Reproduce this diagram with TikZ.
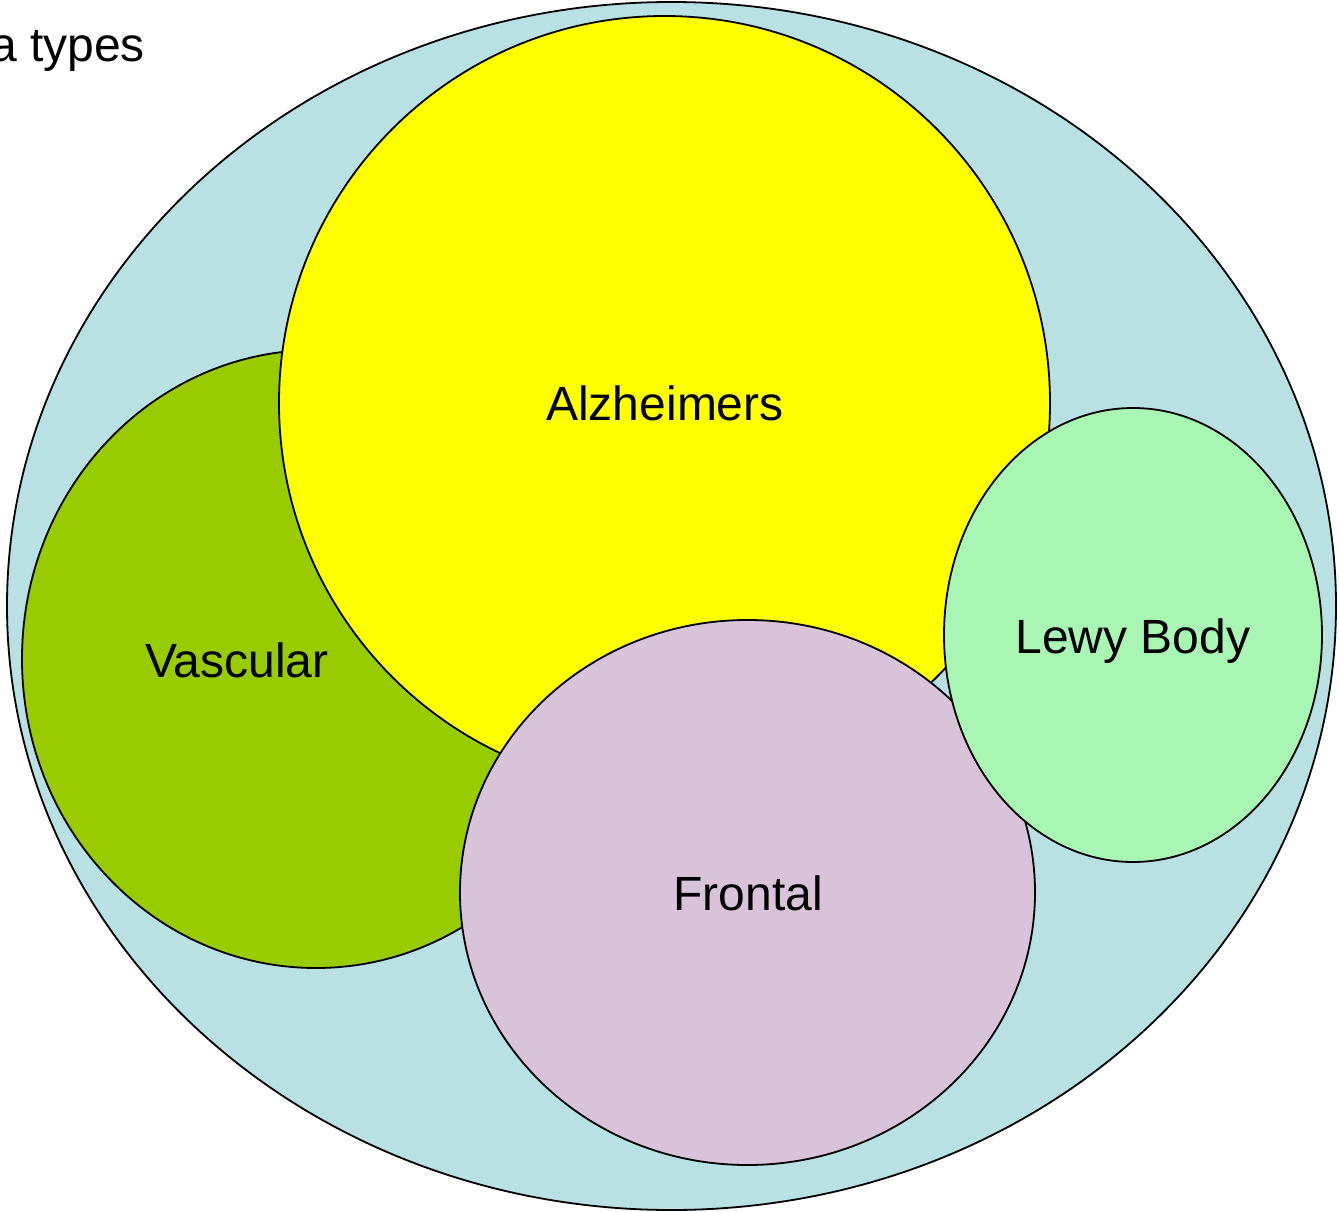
\documentclass[tikz,border=0pt]{standalone}
\usepackage{fontspec}
\setmainfont{Liberation Sans}
\usetikzlibrary{shapes.geometric}
\definecolor{outerblue}{HTML}{B9E0E3}
\definecolor{alzyellow}{HTML}{FFFF00}
\definecolor{vasgreen}{HTML}{99CC00}
\definecolor{frontpink}{HTML}{D9C3D9}
\definecolor{lewygreen}{HTML}{A8F5B4}
\begin{document}
\begin{tikzpicture}[x=1pt,y=-1pt,
  blob/.style={ellipse, draw=black, line width=1.8pt, inner sep=0pt, outer sep=0pt},
  lbl/.style={font=\fontsize{48}{57}\selectfont, text=black, inner sep=0pt}]
\useasboundingbox (0,0) rectangle (1339,1212);
\clip (0,0) rectangle (1339,1212);
\fill[white] (0,0) rectangle (1339,1212);
\node[blob, fill=outerblue, minimum width=1329pt, minimum height=1208pt] (outer) at (671.5,606) {};
\node[blob, fill=vasgreen, minimum width=588pt, minimum height=618pt] (vascular) at (316,659) {};
\node[blob, fill=alzyellow, minimum width=771pt, minimum height=774pt] (alz) at (664.5,403) {};
\node[blob, fill=frontpink, minimum width=575pt, minimum height=545pt] (frontal) at (747.5,892.5) {};
\node[blob, fill=lewygreen, minimum width=378pt, minimum height=454pt] (lewy) at (1133,635) {};
\node[lbl, anchor=base] (talz) at (665,420) {Alzheimers};
\node[lbl, anchor=base] (tvas) at (237,677) {Vascular};
\node[lbl, anchor=base] (tfro) at (748,910) {Frontal};
\node[lbl, anchor=base] (tlew) at (1133,653) {Lewy Body};
\node[lbl, anchor=base west] (title) at (-10,62) {a types};
\end{tikzpicture}
\end{document}
